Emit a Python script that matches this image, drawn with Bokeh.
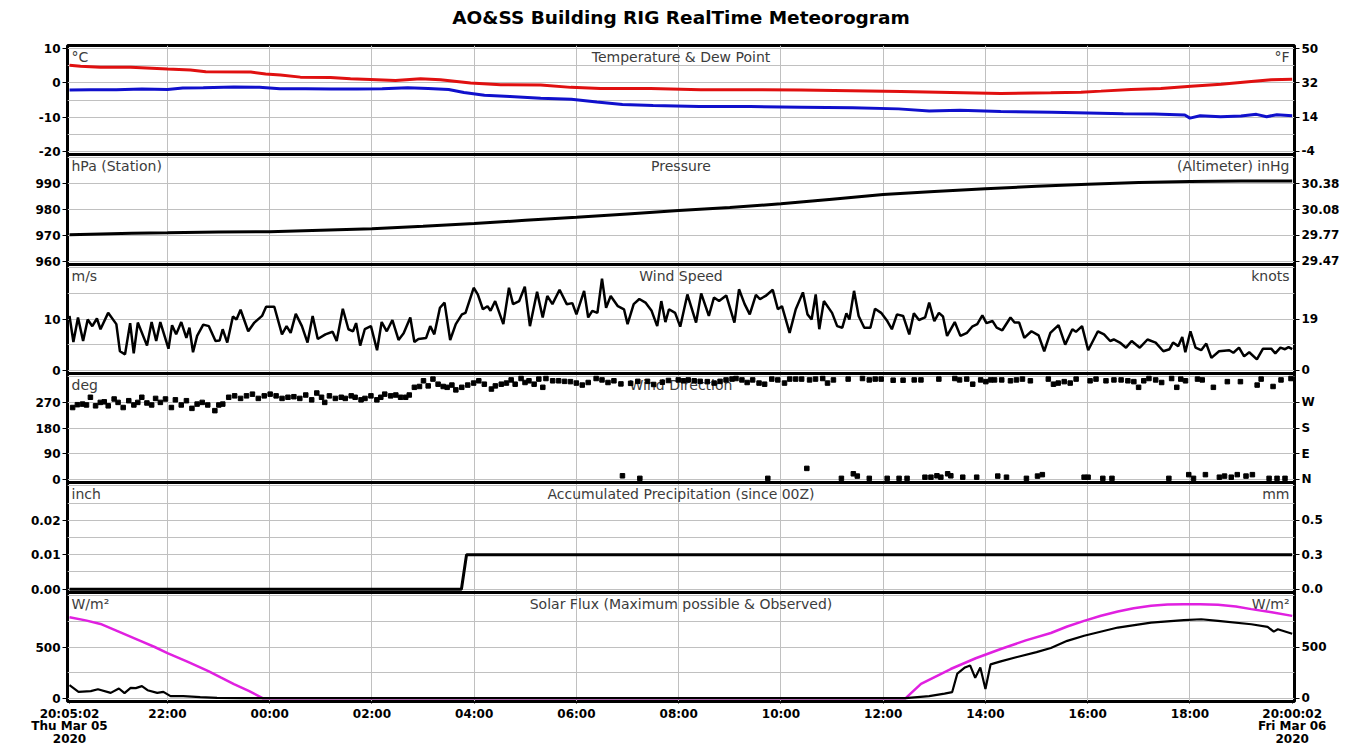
import numpy as np
from bokeh.plotting import figure
from bokeh.models import Range1d, LinearAxis, FixedTicker, Label, Span, Title
from bokeh.embed import file_html
from bokeh.resources import INLINE

FONT = "DejaVu Sans"
TITLE = "AO&SS Building RIG RealTime Meteorogram"

# ---------------- time axis (hours since Thu Mar 05 00:00) ----------------
T0 = 20 + 5 / 60 + 2 / 3600      # 20:05:02
T1 = 44 + 2 / 3600               # 20:00:02 next day
XTICK_H = [T0, 22, 24, 26, 28, 30, 32, 34, 36, 38, 40, 42, T1]
XTICK_LABELS = ["20:05:02\nThu Mar 05\n2020", "22:00", "00:00", "02:00", "04:00", "06:00",
                "08:00", "10:00", "12:00", "14:00", "16:00", "18:00",
                "20:00:02\nFri Mar 06\n2020"]
XGRID_H = [22, 24, 26, 28, 30, 32, 34, 36, 38, 40, 42]

# ---------------- temperature & dew point (deg C) ----------------
TEMP_T = [T0, 20.3, 20.69, 21.28, 22.0, 22.45, 22.75, 23.63, 23.92, 24.21, 24.6, 25.19, 25.58,
          25.97, 26.46, 26.95, 27.34, 27.93, 28.52, 29.3, 29.89, 30.47, 31.45, 32.43, 33.41,
          34.39, 35.37, 36.35, 37.32, 38.3, 39.28, 39.87, 40.26, 40.85, 41.43, 42.02, 42.61,
          43.2, 43.59, T1]
TEMP_C = [5.2, 4.9, 4.6, 4.6, 4.1, 3.8, 3.3, 3.2, 2.6, 2.3, 1.7, 1.6, 1.2,
          1.0, 0.7, 1.2, 0.9, 0.0, -0.5, -0.6, -1.3, -1.6, -1.6, -2.0, -2.0,
          -2.1, -2.3, -2.5, -2.8, -3.1, -2.9, -2.7, -2.4, -1.9, -1.6, -1.0, -0.4,
          0.4, 0.9, 1.1]
DEW_T = [T0, 20.5, 21.0, 21.5, 22.0, 22.3, 22.7, 23.3, 23.8, 24.2, 24.7, 25.2, 25.7, 26.2,
         26.7, 27.1, 27.5, 27.8, 28.2, 28.7, 29.3, 29.9, 30.4, 30.9, 31.5, 32.4, 33.4, 34.4,
         35.4, 36.3, 36.9, 37.5, 38.3, 39.3, 40.0, 40.7, 41.3, 41.9, 42.0, 42.2, 42.6, 43.0,
         43.3, 43.5, 43.7, T1]
DEW_C = [-2.1, -2.0, -2.0, -1.8, -1.9, -1.5, -1.4, -1.2, -1.3, -1.7, -1.7, -1.8, -1.8, -1.7,
         -1.4, -1.6, -1.9, -2.8, -3.6, -4.0, -4.5, -4.8, -5.6, -6.3, -6.6, -6.9, -6.9, -7.1,
         -7.3, -7.6, -8.2, -8.0, -8.4, -8.6, -8.8, -9.0, -9.1, -9.4, -10.3, -9.6, -9.9, -9.7,
         -9.2, -9.9, -9.3, -9.6]

# ---------------- station pressure (hPa) ----------------
PRES_T = [T0, 20.7, 21.3, 22.0, 23.0, 24.0, 25.0, 26.0, 27.0, 28.0, 29.0, 30.0, 31.0,
          32.0, 33.0, 34.0, 35.0, 36.0, 37.0, 38.0, 39.0, 40.0, 41.0, 42.0, 43.0, T1]
PRES_HPA = [970.2, 970.5, 970.8, 971.0, 971.3, 971.4, 972.0, 972.6, 973.5, 974.6, 975.8, 977.0,
            978.3, 979.6, 980.8, 982.2, 984.0, 985.8, 987.0, 988.0, 989.0, 989.8, 990.4,
            990.8, 991.0, 991.0]

# ---------------- wind speed (m/s) ----------------
WS_T = [T0, 20.16, 20.25, 20.35, 20.44, 20.53, 20.62, 20.69, 20.84, 21.00,
        21.07, 21.17, 21.27, 21.34, 21.42, 21.60, 21.69, 21.78, 21.86, 22.02,
        22.09, 22.17, 22.27, 22.37, 22.43, 22.50, 22.58, 22.70, 22.81, 22.94,
        23.02, 23.08, 23.17, 23.28, 23.35, 23.43, 23.58, 23.70, 23.85, 23.93,
        24.09, 24.24, 24.33, 24.41, 24.51, 24.63, 24.74, 24.84, 24.94, 25.09,
        25.23, 25.31, 25.43, 25.54, 25.63, 25.69, 25.77, 25.86, 25.98, 26.10,
        26.19, 26.29, 26.40, 26.52, 26.62, 26.75, 26.83, 26.91, 27.06, 27.14,
        27.22, 27.33, 27.42, 27.53, 27.64, 27.76, 27.83, 27.99, 28.07, 28.17,
        28.26, 28.32, 28.41, 28.57, 28.68, 28.76, 28.88, 28.99, 29.09, 29.23,
        29.34, 29.43, 29.53, 29.67, 29.81, 29.92, 30.00, 30.15, 30.23, 30.31,
        30.41, 30.50, 30.58, 30.67, 30.81, 30.93, 31.00, 31.12, 31.23, 31.35,
        31.47, 31.58, 31.66, 31.74, 31.81, 31.93, 32.03, 32.17, 32.34, 32.44,
        32.59, 32.69, 32.79, 32.93, 33.09, 33.18, 33.29, 33.39, 33.51, 33.59,
        33.70, 33.84, 33.94, 34.02, 34.17, 34.29, 34.43, 34.52, 34.60, 34.68,
        34.75, 34.84, 35.00, 35.10, 35.20, 35.28, 35.34, 35.43, 35.52, 35.63,
        35.75, 35.84, 35.96, 36.08, 36.17, 36.27, 36.39, 36.51, 36.60, 36.70,
        36.82, 36.90, 37.00, 37.09, 37.17, 37.25, 37.40, 37.51, 37.64, 37.74,
        37.84, 37.94, 38.02, 38.14, 38.22, 38.33, 38.49, 38.57, 38.66, 38.76,
        38.90, 39.04, 39.15, 39.27, 39.43, 39.56, 39.70, 39.77, 39.89, 40.01,
        40.20, 40.32, 40.44, 40.51, 40.63, 40.75, 40.86, 41.02, 41.17, 41.33,
        41.48, 41.60, 41.67, 41.77, 41.85, 41.91, 42.01, 42.11, 42.22, 42.32,
        42.42, 42.57, 42.77, 42.85, 42.96, 43.06, 43.16, 43.31, 43.43, 43.59,
        43.67, 43.77, 43.86, 43.93, T1]
WS_MS = [10.6, 5.5, 10.3, 5.7, 9.9, 8.6, 10.1, 8.0, 11.2, 9.0,
         3.7, 3.1, 9.2, 3.3, 9.3, 4.8, 9.4, 5.7, 9.4, 4.2,
         8.8, 7.0, 9.4, 6.3, 8.3, 3.5, 6.7, 8.9, 8.6, 5.7,
         5.8, 8.0, 5.4, 10.5, 9.9, 11.8, 7.6, 9.3, 10.6, 12.4,
         12.4, 7.0, 8.6, 7.3, 11.0, 8.6, 5.4, 10.6, 6.1, 7.0,
         7.5, 5.7, 12.0, 8.0, 7.6, 9.2, 4.8, 8.0, 8.6, 3.9,
         9.4, 7.6, 9.8, 5.9, 7.2, 10.3, 5.5, 6.1, 6.3, 8.6,
         7.0, 12.2, 13.2, 5.9, 9.0, 10.9, 11.2, 16.1, 14.8, 11.9,
         12.5, 11.6, 13.5, 9.0, 16.1, 12.9, 13.5, 16.3, 8.6, 15.3,
         10.3, 14.5, 12.9, 15.7, 12.9, 13.1, 10.9, 15.5, 10.3, 11.6,
         11.2, 17.9, 12.2, 14.5, 12.5, 11.9, 9.0, 12.9, 13.9, 13.2,
         11.6, 8.6, 13.5, 9.4, 11.9, 11.2, 8.5, 14.8, 9.3, 15.0,
         10.6, 14.2, 13.5, 14.6, 9.3, 15.8, 12.9, 10.9, 14.7, 13.9,
         14.5, 15.7, 11.9, 12.5, 7.3, 11.9, 15.2, 10.9, 9.9, 14.8,
         8.0, 13.5, 11.2, 8.6, 8.3, 11.1, 9.9, 15.5, 10.6, 8.3,
         8.3, 12.0, 11.2, 9.6, 8.0, 10.9, 10.6, 7.0, 11.1, 9.8,
         10.3, 13.2, 9.6, 11.2, 10.5, 6.7, 9.4, 6.7, 7.3, 8.5,
         9.0, 10.7, 9.2, 9.6, 8.3, 7.8, 10.3, 9.3, 9.3, 6.3,
         7.6, 6.8, 3.7, 7.3, 8.8, 5.0, 8.0, 7.5, 8.6, 3.9,
         7.6, 7.0, 5.7, 6.0, 5.4, 4.4, 5.7, 4.4, 6.0, 5.4,
         3.7, 4.1, 5.4, 4.7, 6.5, 3.5, 7.6, 4.4, 3.9, 5.2,
         2.4, 3.7, 3.9, 3.4, 4.4, 2.7, 3.5, 2.1, 4.2, 4.2,
         3.3, 4.4, 4.1, 4.5, 4.1]

# ---------------- wind direction (deg) ----------------
WD_T = [20.145, 20.238, 20.339, 20.416, 20.493, 20.594, 20.686, 20.764, 20.841, 20.957,
        21.034, 21.134, 21.243, 21.343, 21.42, 21.498, 21.598, 21.691, 21.768, 21.861,
        21.961, 22.077, 22.155, 22.27, 22.371, 22.479, 22.58, 22.68, 22.788, 22.927,
        23.005, 23.082, 23.198, 23.314, 23.43, 23.546, 23.662, 23.777, 23.893, 24.009,
        24.125, 24.241, 24.357, 24.473, 24.589, 24.705, 24.821, 24.921, 25.014, 25.076,
        25.168, 25.284, 25.4, 25.478, 25.594, 25.671, 25.787, 25.864, 25.98, 26.096,
        26.173, 26.25, 26.366, 26.467, 26.56, 26.66, 26.73, 26.83, 26.93, 27.008,
        27.1, 27.193, 27.294, 27.394, 27.471, 27.564, 27.641, 27.757, 27.873, 27.989,
        28.09, 28.198, 28.337, 28.414, 28.53, 28.631, 28.723, 28.801, 28.917, 28.994,
        29.071, 29.172, 29.264, 29.342, 29.403, 29.535, 29.651, 29.767, 29.883, 29.998,
        30.114, 30.23, 30.385, 30.5, 30.617, 30.733, 30.87, 31.06, 31.2, 31.39,
        31.51, 31.68, 31.8, 31.992, 32.093, 32.187, 32.304, 32.42, 32.56, 32.693,
        32.809, 32.926, 33.043, 33.121, 33.237, 33.339, 33.447, 33.572, 33.681, 33.821,
        33.938, 34.07, 34.171, 34.288, 34.405, 34.56, 34.677, 34.817, 34.911, 35.027,
        35.315, 35.595, 35.728, 35.844, 35.961, 36.195, 36.389, 36.607, 36.739, 37.089,
        37.401, 37.494, 37.634, 37.751, 37.907, 38.008, 38.101, 38.179, 38.319, 38.49,
        38.607, 38.724, 38.879, 39.23, 39.331, 39.424, 39.541, 39.658, 39.774, 40.047,
        40.163, 40.358, 40.514, 40.654, 40.786, 40.903, 40.996, 41.097, 41.198, 41.33,
        41.447, 41.642, 41.743, 41.821, 41.914, 42.148, 42.241, 42.459, 42.732, 42.988,
        43.315, 43.393, 43.626, 43.782, 43.977,
        30.9, 31.24, 33.743, 34.506, 35.183, 35.416, 35.494, 35.728, 36.078, 36.311,
        36.467, 36.817, 36.934, 37.051, 37.128, 37.261, 37.323, 37.556, 37.829, 38.241,
        38.412, 38.802, 39.019, 39.113, 39.93, 40.008, 40.296, 40.475, 41.588, 41.977,
        42.07, 42.303, 42.576, 42.677, 42.809, 42.926, 43.097, 43.222, 43.549, 43.704,
        43.86]
WD_DEG = [252, 262, 264, 261, 288, 258, 270, 272, 258, 282,
          270, 252, 276, 261, 270, 288, 268, 261, 284, 270,
          282, 252, 279, 261, 276, 249, 264, 270, 261, 241,
          261, 264, 288, 293, 284, 293, 299, 284, 293, 299,
          293, 284, 288, 290, 284, 296, 279, 303, 288, 270,
          293, 284, 288, 284, 293, 288, 279, 284, 293, 279,
          288, 299, 293, 296, 288, 288, 296, 323, 326, 346,
          328, 352, 334, 326, 323, 331, 314, 323, 331, 338,
          346, 334, 317, 328, 334, 338, 349, 334, 354, 340,
          346, 334, 352, 323, 354, 346, 346, 344, 343, 338,
          331, 340, 354, 349, 340, 346, 335, 337, 344, 344,
          333, 341, 347, 349, 346, 349, 346, 344, 343, 338,
          344, 349, 352, 354, 349, 340, 349, 338, 334, 352,
          349, 338, 352, 352, 352, 349, 352, 354, 338, 349,
          352, 354, 349, 352, 352, 348, 348, 349, 349, 352,
          354, 349, 352, 334, 349, 343, 349, 349, 349, 346,
          349, 352, 346, 352, 334, 338, 343, 338, 352, 346,
          352, 346, 349, 349, 346, 343, 323, 346, 354, 349,
          340, 354, 323, 352, 346, 352, 349, 323, 343, 343,
          331, 352, 326, 349, 354,
          12, 3, 3, 38, 3, 19, 11, 3, 3, 3,
          3, 7, 7, 12, 7, 19, 12, 7, 7, 11,
          7, 3, 11, 16, 7, 7, 3, 3, 3, 16,
          3, 16, 7, 11, 7, 16, 11, 16, 3, 3,
          3]

# ---------------- accumulated precipitation (inch) ----------------
PRECIP_T = [T0, 27.75, 27.85, T1]
PRECIP_IN = [0.0, 0.0, 0.01, 0.01]

# ---------------- solar flux (W/m2) ----------------
SMAX_T = [T0, 20.4, 20.69, 21.0, 21.47, 21.75, 22.0, 22.4, 22.8, 23.05, 23.3, 23.6, 23.86,
          30.0, 36.44, 36.74, 37.32, 37.81, 38.3, 38.79, 39.28, 39.6, 39.93, 40.26, 40.59,
          40.9, 41.24, 41.56, 41.88, 42.2, 42.55, 42.9, 43.2, 43.6, T1]
SMAX_W = [790, 760, 725, 660, 560, 500, 441, 355, 265, 200, 137, 70, 0,
          0, 0, 140, 285, 390, 480, 565, 637, 700, 755, 805, 846,
          878, 902, 914, 918, 918, 912, 895, 870, 840, 804]
SOBS_T = [T0, 20.26, 20.5, 20.64, 20.89, 21.05, 21.16, 21.28, 21.38, 21.5, 21.61, 21.8,
          21.92, 22.06, 22.31, 22.64, 22.97, 23.5, 30.0, 36.44, 36.9, 37.2, 37.35, 37.45,
          37.6, 37.7, 37.8, 37.9, 38.0, 38.1, 38.3, 38.6, 39.0, 39.28, 39.6, 39.93, 40.59,
          41.24, 41.88, 42.22, 42.55, 43.2, 43.52, 43.64, 43.72, T1]
SOBS_W = [127, 62, 69, 88, 52, 95, 49, 101, 98, 118, 78, 52,
          62, 20, 20, 10, 3, 0, 0, 0, 20, 45, 60, 240,
          300, 320, 200, 300, 90, 330, 360, 400, 450, 490, 560, 610, 690,
          738, 762, 771, 755, 722, 696, 650, 673, 630]

# ---------------- panel scales and axis labels ----------------
TEMP_TICKS = [-20, -10, 0, 10]
TEMP_F_LABELS = ["-4", "14", "32", "50"]
PRES_TICKS = [960, 970, 980, 990]
PRES_INHG_LABELS = ["29.47", "29.77", "30.08", "30.38"]
WS_TICKS = [0, 10]
WS_KT_LABELS = ["0", "19"]
WD_TICKS = [0, 90, 180, 270]
WD_COMPASS = ["N", "E", "S", "W"]
PR_TICKS = [0.0, 0.01, 0.02]
PR_IN_LABELS = ["0.00", "0.01", "0.02"]
PR_MM_LABELS = ["0.0", "0.3", "0.5"]
SOL_TICKS = [0, 500]

PANELS = [
    dict(name="temp", lo=-20, hi=10, grid=[-20, -15, -10, -5, 0, 5, 10],
         ticks=TEMP_TICKS, left=[str(v) for v in TEMP_TICKS], right=TEMP_F_LABELS,
         texts=("°C", "Temperature & Dew Point", "°F")),
    dict(name="pres", lo=960, hi=1000, grid=[960, 970, 980, 990, 1000],
         ticks=PRES_TICKS, left=[str(v) for v in PRES_TICKS], right=PRES_INHG_LABELS,
         texts=("hPa (Station)", "Pressure", "(Altimeter) inHg")),
    dict(name="wspd", lo=0, hi=20, grid=[0, 5, 10, 15, 20],
         ticks=WS_TICKS, left=[str(v) for v in WS_TICKS], right=WS_KT_LABELS,
         texts=("m/s", "Wind Speed", "knots")),
    dict(name="wdir", lo=0, hi=360, grid=[0, 90, 180, 270, 360],
         ticks=WD_TICKS, left=[str(v) for v in WD_TICKS], right=WD_COMPASS,
         texts=("deg", "Wind Direction", None)),
    dict(name="prcp", lo=0, hi=0.03, grid=[0, 0.005, 0.01, 0.015, 0.02, 0.025, 0.03],
         ticks=PR_TICKS, left=PR_IN_LABELS, right=PR_MM_LABELS,
         texts=("inch", "Accumulated Precipitation (since 00Z)", "mm")),
    dict(name="solr", lo=0, hi=1000, grid=[0, 250, 500, 750, 1000],
         ticks=SOL_TICKS, left=[str(v) for v in SOL_TICKS], right=[str(v) for v in SOL_TICKS],
         texts=("W/m²", "Solar Flux (Maximum possible & Observed)", "W/m²")),
]

RED = "#e01010"
BLUE = "#1010cc"
MAGENTA = "#e020e0"
GRID = "#c0c0c0"
UNIT = "#3c3c3c"

FRAME_W, FRAME_H = 1227, 656
EDGES = [0, 109, 219, 328, 437, 547, 656]   # panel borders, px below the frame top
EDGE_PAD = 3.3


def hs(hours):
    return np.round(np.asarray(hours, dtype=float) * 3600.0)


def band(k):
    ybot = FRAME_H - EDGES[k + 1] + EDGE_PAD
    ytop = FRAME_H - EDGES[k] - EDGE_PAD
    return ybot, ytop


def pos(k, v):
    pnl = PANELS[k]
    ybot, ytop = band(k)
    return round(ybot + (v - pnl["lo"]) / (pnl["hi"] - pnl["lo"]) * (ytop - ybot), 3)


def panel_range(k):
    pnl = PANELS[k]
    ybot, ytop = band(k)
    s = (pnl["hi"] - pnl["lo"]) / (ytop - ybot)
    return Range1d(pnl["lo"] - ybot * s, pnl["lo"] + (FRAME_H - ybot) * s)


XR = Range1d(72302 - 141, 158402 + 162)

p = figure(frame_width=FRAME_W, frame_height=FRAME_H, x_range=XR, y_range=Range1d(0, FRAME_H),
           extra_y_ranges={pn["name"]: panel_range(k) for k, pn in enumerate(PANELS)},
           title=TITLE, output_backend="svg", toolbar_location=None,
           x_axis_location="below", y_axis_location=None,
           min_border_left=67, min_border_right=55, min_border_top=45, min_border_bottom=43)
p.outline_line_color = "black"
p.outline_line_width = 3
p.background_fill_color = "white"
p.border_fill_color = "white"

p.title.align = "center"
p.title.text_font = FONT
p.title.text_font_size = "18.5px"
p.title.text_font_style = "bold"
p.title.text_color = "black"
p.title.standoff = 4
# blank spacer between the title and the top panel
p.add_layout(Title(text=" ", text_font_size="12px", standoff=0), "above")

# grids
p.xgrid.ticker = FixedTicker(ticks=[int(v) for v in hs(XGRID_H)])
p.xgrid.grid_line_color = GRID
ygrid_pos = [pos(k, v) for k, pn in enumerate(PANELS) for v in pn["grid"]]
p.ygrid.ticker = FixedTicker(ticks=ygrid_pos)
p.ygrid.grid_line_color = GRID


def style_axis(ax):
    ax.axis_line_color = None
    ax.major_tick_line_color = "black"
    ax.major_tick_line_width = 1
    ax.major_tick_in = 0
    ax.major_tick_out = 5
    ax.minor_tick_line_color = None
    ax.major_label_text_font = FONT
    ax.major_label_text_font_size = "12px"
    ax.major_label_text_font_style = "bold"
    ax.major_label_text_color = "black"
    ax.major_label_standoff = 2


# left & right axes (one tick set per panel)
for side in ("left", "right"):
    tk, ov = [], {}
    for k, pn in enumerate(PANELS):
        for v, lab in zip(pn["ticks"], pn[side]):
            y = pos(k, v)
            tk.append(y)
            ov[y] = lab
    ax = LinearAxis(ticker=FixedTicker(ticks=tk), major_label_overrides=ov)
    style_axis(ax)
    p.add_layout(ax, side)

# x axis
xa = p.xaxis[0]
xticks = [int(v) for v in hs(XTICK_H)]
xa.ticker = FixedTicker(ticks=xticks)
xa.major_label_overrides = {t: l for t, l in zip(xticks, XTICK_LABELS)}
style_axis(xa)
xa.major_tick_out = 2
xa.major_label_standoff = 3
xa.major_label_text_line_height = 0.9

# panel separators and in-panel texts
xm = (XR.start + XR.end) / 2
for k, pn in enumerate(PANELS):
    top = FRAME_H - EDGES[k]
    if k > 0:
        p.add_layout(Span(location=top, dimension="width", line_color="black", line_width=3))
    left, center, right = pn["texts"]
    for txt, x, al, xo in ((left, XR.start, "left", 4), (center, xm, "center", 0),
                           (right, XR.end, "right", -5)):
        if txt:
            p.add_layout(Label(x=x, y=top, text=txt, text_align=al, text_baseline="top",
                               x_offset=xo, y_offset=-3, text_font=FONT, text_font_size="14px",
                               text_color=UNIT, level="underlay"))

# data
p.line(hs(TEMP_T), TEMP_C, y_range_name="temp", line_color=RED, line_width=3)
p.line(hs(DEW_T), DEW_C, y_range_name="temp", line_color=BLUE, line_width=3)
p.line(hs(PRES_T), PRES_HPA, y_range_name="pres", line_color="black", line_width=3)
p.line(hs(WS_T), WS_MS, y_range_name="wspd", line_color="black", line_width=2.5)
p.scatter(hs(WD_T), WD_DEG, y_range_name="wdir", marker="square", size=4.5, color="black")
p.line(hs(PRECIP_T), PRECIP_IN, y_range_name="prcp", line_color="black", line_width=3)
p.line(hs(SMAX_T), SMAX_W, y_range_name="solr", line_color=MAGENTA, line_width=2.5)
p.line(hs(SOBS_T), SOBS_W, y_range_name="solr", line_color="black", line_width=2.2)

open("out.html", "w").write(file_html(p, INLINE))
